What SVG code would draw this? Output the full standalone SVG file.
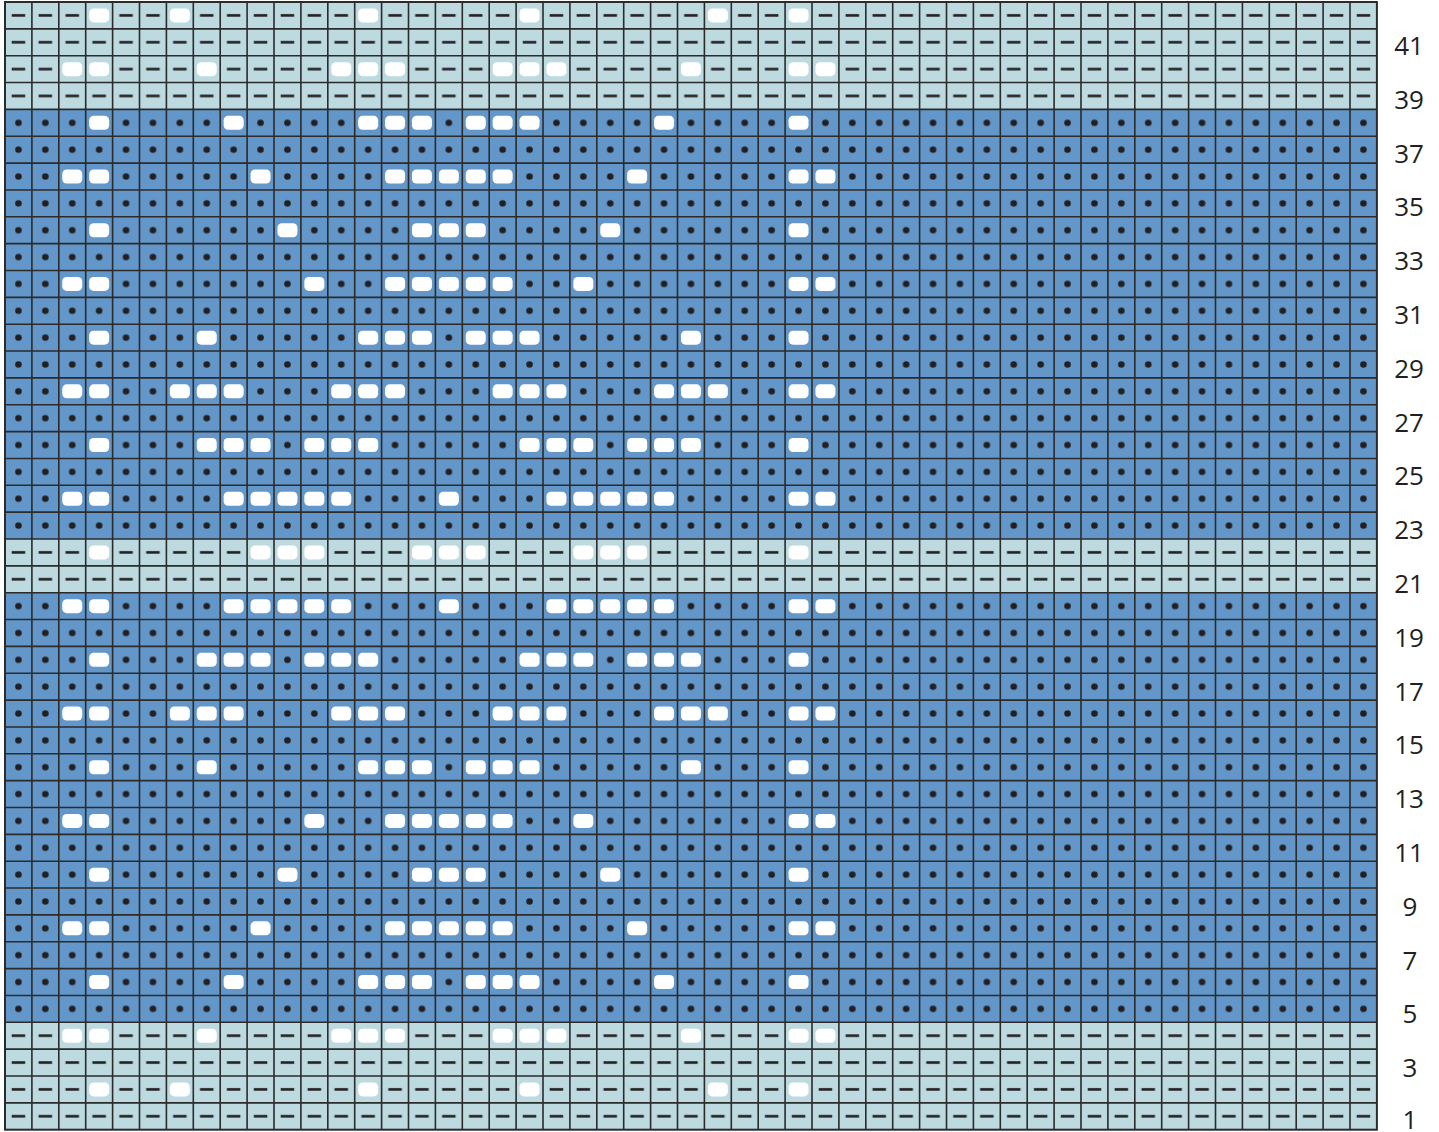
<svg xmlns="http://www.w3.org/2000/svg" xmlns:xlink="http://www.w3.org/1999/xlink" width="1439" height="1132" viewBox="0 0 1439 1132">
<style>
.light{fill:#bcdae0}
.blue{fill:#6497c9}
.grid{fill:none;stroke:#2b2b2b;stroke-width:1.6}
.border{fill:none;stroke:#2b2b2b;stroke-width:2}
.num{font-family:"Open Sans","Liberation Sans",sans-serif;font-size:26px;fill:#231f20;text-anchor:middle}
</style>
<defs>
<pattern id="dot" patternUnits="userSpaceOnUse" x="5" y="2" width="26.9" height="26.85"><circle cx="13.45" cy="13.425" r="3.3" fill="#231f20"/></pattern>
<pattern id="dash" patternUnits="userSpaceOnUse" x="5" y="2" width="26.9" height="26.85"><rect x="6.7" y="12.1" width="13.5" height="2.6" fill="#231f20"/></pattern>
<rect id="b" x="-10" y="-7" width="20" height="14" rx="4.5" fill="#ffffff"/>
</defs>
<rect width="1439" height="1132" fill="#ffffff"/>
<g id="bands">
<rect class="light" x="5" y="2" width="1371.9" height="107.4"/>
<rect class="blue" x="5" y="109.4" width="1371.9" height="429.6"/>
<rect class="light" x="5" y="539" width="1371.9" height="53.7"/>
<rect class="blue" x="5" y="592.7" width="1371.9" height="429.6"/>
<rect class="light" x="5" y="1022.3" width="1371.9" height="107.4"/>
</g>
<g id="symbols">
<rect x="5" y="2" width="1371.9" height="107.4" fill="url(#dash)"/>
<rect x="5" y="109.4" width="1371.9" height="429.6" fill="url(#dot)"/>
<rect x="5" y="539" width="1371.9" height="53.7" fill="url(#dash)"/>
<rect x="5" y="592.7" width="1371.9" height="429.6" fill="url(#dot)"/>
<rect x="5" y="1022.3" width="1371.9" height="107.4" fill="url(#dash)"/>
</g>
<g id="bobbles">
<g transform="translate(0,15.425)"><use href="#b" x="99.15"/><use href="#b" x="179.85"/><use href="#b" x="368.15"/><use href="#b" x="529.55"/><use href="#b" x="717.85"/><use href="#b" x="798.55"/></g>
<g transform="translate(0,69.125)"><use href="#b" x="72.25"/><use href="#b" x="99.15"/><use href="#b" x="206.75"/><use href="#b" x="341.25"/><use href="#b" x="368.15"/><use href="#b" x="395.05"/><use href="#b" x="502.65"/><use href="#b" x="529.55"/><use href="#b" x="556.45"/><use href="#b" x="690.95"/><use href="#b" x="798.55"/><use href="#b" x="825.45"/></g>
<g transform="translate(0,122.825)"><use href="#b" x="99.15"/><use href="#b" x="233.65"/><use href="#b" x="368.15"/><use href="#b" x="395.05"/><use href="#b" x="421.95"/><use href="#b" x="475.75"/><use href="#b" x="502.65"/><use href="#b" x="529.55"/><use href="#b" x="664.05"/><use href="#b" x="798.55"/></g>
<g transform="translate(0,176.525)"><use href="#b" x="72.25"/><use href="#b" x="99.15"/><use href="#b" x="260.55"/><use href="#b" x="395.05"/><use href="#b" x="421.95"/><use href="#b" x="448.85"/><use href="#b" x="475.75"/><use href="#b" x="502.65"/><use href="#b" x="637.15"/><use href="#b" x="798.55"/><use href="#b" x="825.45"/></g>
<g transform="translate(0,230.225)"><use href="#b" x="99.15"/><use href="#b" x="287.45"/><use href="#b" x="421.95"/><use href="#b" x="448.85"/><use href="#b" x="475.75"/><use href="#b" x="610.25"/><use href="#b" x="798.55"/></g>
<g transform="translate(0,283.925)"><use href="#b" x="72.25"/><use href="#b" x="99.15"/><use href="#b" x="314.35"/><use href="#b" x="395.05"/><use href="#b" x="421.95"/><use href="#b" x="448.85"/><use href="#b" x="475.75"/><use href="#b" x="502.65"/><use href="#b" x="583.35"/><use href="#b" x="798.55"/><use href="#b" x="825.45"/></g>
<g transform="translate(0,337.625)"><use href="#b" x="99.15"/><use href="#b" x="206.75"/><use href="#b" x="368.15"/><use href="#b" x="395.05"/><use href="#b" x="421.95"/><use href="#b" x="475.75"/><use href="#b" x="502.65"/><use href="#b" x="529.55"/><use href="#b" x="690.95"/><use href="#b" x="798.55"/></g>
<g transform="translate(0,391.325)"><use href="#b" x="72.25"/><use href="#b" x="99.15"/><use href="#b" x="179.85"/><use href="#b" x="206.75"/><use href="#b" x="233.65"/><use href="#b" x="341.25"/><use href="#b" x="368.15"/><use href="#b" x="395.05"/><use href="#b" x="502.65"/><use href="#b" x="529.55"/><use href="#b" x="556.45"/><use href="#b" x="664.05"/><use href="#b" x="690.95"/><use href="#b" x="717.85"/><use href="#b" x="798.55"/><use href="#b" x="825.45"/></g>
<g transform="translate(0,445.025)"><use href="#b" x="99.15"/><use href="#b" x="206.75"/><use href="#b" x="233.65"/><use href="#b" x="260.55"/><use href="#b" x="314.35"/><use href="#b" x="341.25"/><use href="#b" x="368.15"/><use href="#b" x="529.55"/><use href="#b" x="556.45"/><use href="#b" x="583.35"/><use href="#b" x="637.15"/><use href="#b" x="664.05"/><use href="#b" x="690.95"/><use href="#b" x="798.55"/></g>
<g transform="translate(0,498.725)"><use href="#b" x="72.25"/><use href="#b" x="99.15"/><use href="#b" x="233.65"/><use href="#b" x="260.55"/><use href="#b" x="287.45"/><use href="#b" x="314.35"/><use href="#b" x="341.25"/><use href="#b" x="448.85"/><use href="#b" x="556.45"/><use href="#b" x="583.35"/><use href="#b" x="610.25"/><use href="#b" x="637.15"/><use href="#b" x="664.05"/><use href="#b" x="798.55"/><use href="#b" x="825.45"/></g>
<g transform="translate(0,552.425)"><use href="#b" x="99.15"/><use href="#b" x="260.55"/><use href="#b" x="287.45"/><use href="#b" x="314.35"/><use href="#b" x="421.95"/><use href="#b" x="448.85"/><use href="#b" x="475.75"/><use href="#b" x="583.35"/><use href="#b" x="610.25"/><use href="#b" x="637.15"/><use href="#b" x="798.55"/></g>
<g transform="translate(0,606.125)"><use href="#b" x="72.25"/><use href="#b" x="99.15"/><use href="#b" x="233.65"/><use href="#b" x="260.55"/><use href="#b" x="287.45"/><use href="#b" x="314.35"/><use href="#b" x="341.25"/><use href="#b" x="448.85"/><use href="#b" x="556.45"/><use href="#b" x="583.35"/><use href="#b" x="610.25"/><use href="#b" x="637.15"/><use href="#b" x="664.05"/><use href="#b" x="798.55"/><use href="#b" x="825.45"/></g>
<g transform="translate(0,659.825)"><use href="#b" x="99.15"/><use href="#b" x="206.75"/><use href="#b" x="233.65"/><use href="#b" x="260.55"/><use href="#b" x="314.35"/><use href="#b" x="341.25"/><use href="#b" x="368.15"/><use href="#b" x="529.55"/><use href="#b" x="556.45"/><use href="#b" x="583.35"/><use href="#b" x="637.15"/><use href="#b" x="664.05"/><use href="#b" x="690.95"/><use href="#b" x="798.55"/></g>
<g transform="translate(0,713.525)"><use href="#b" x="72.25"/><use href="#b" x="99.15"/><use href="#b" x="179.85"/><use href="#b" x="206.75"/><use href="#b" x="233.65"/><use href="#b" x="341.25"/><use href="#b" x="368.15"/><use href="#b" x="395.05"/><use href="#b" x="502.65"/><use href="#b" x="529.55"/><use href="#b" x="556.45"/><use href="#b" x="664.05"/><use href="#b" x="690.95"/><use href="#b" x="717.85"/><use href="#b" x="798.55"/><use href="#b" x="825.45"/></g>
<g transform="translate(0,767.225)"><use href="#b" x="99.15"/><use href="#b" x="206.75"/><use href="#b" x="368.15"/><use href="#b" x="395.05"/><use href="#b" x="421.95"/><use href="#b" x="475.75"/><use href="#b" x="502.65"/><use href="#b" x="529.55"/><use href="#b" x="690.95"/><use href="#b" x="798.55"/></g>
<g transform="translate(0,820.925)"><use href="#b" x="72.25"/><use href="#b" x="99.15"/><use href="#b" x="314.35"/><use href="#b" x="395.05"/><use href="#b" x="421.95"/><use href="#b" x="448.85"/><use href="#b" x="475.75"/><use href="#b" x="502.65"/><use href="#b" x="583.35"/><use href="#b" x="798.55"/><use href="#b" x="825.45"/></g>
<g transform="translate(0,874.625)"><use href="#b" x="99.15"/><use href="#b" x="287.45"/><use href="#b" x="421.95"/><use href="#b" x="448.85"/><use href="#b" x="475.75"/><use href="#b" x="610.25"/><use href="#b" x="798.55"/></g>
<g transform="translate(0,928.325)"><use href="#b" x="72.25"/><use href="#b" x="99.15"/><use href="#b" x="260.55"/><use href="#b" x="395.05"/><use href="#b" x="421.95"/><use href="#b" x="448.85"/><use href="#b" x="475.75"/><use href="#b" x="502.65"/><use href="#b" x="637.15"/><use href="#b" x="798.55"/><use href="#b" x="825.45"/></g>
<g transform="translate(0,982.025)"><use href="#b" x="99.15"/><use href="#b" x="233.65"/><use href="#b" x="368.15"/><use href="#b" x="395.05"/><use href="#b" x="421.95"/><use href="#b" x="475.75"/><use href="#b" x="502.65"/><use href="#b" x="529.55"/><use href="#b" x="664.05"/><use href="#b" x="798.55"/></g>
<g transform="translate(0,1035.725)"><use href="#b" x="72.25"/><use href="#b" x="99.15"/><use href="#b" x="206.75"/><use href="#b" x="341.25"/><use href="#b" x="368.15"/><use href="#b" x="395.05"/><use href="#b" x="502.65"/><use href="#b" x="529.55"/><use href="#b" x="556.45"/><use href="#b" x="690.95"/><use href="#b" x="798.55"/><use href="#b" x="825.45"/></g>
<g transform="translate(0,1089.425)"><use href="#b" x="99.15"/><use href="#b" x="179.85"/><use href="#b" x="368.15"/><use href="#b" x="529.55"/><use href="#b" x="717.85"/><use href="#b" x="798.55"/></g>
</g>
<g id="gridlines">
<path class="grid" d="M31.9 2V1129.7M58.8 2V1129.7M85.7 2V1129.7M112.6 2V1129.7M139.5 2V1129.7M166.4 2V1129.7M193.3 2V1129.7M220.2 2V1129.7M247.1 2V1129.7M274 2V1129.7M300.9 2V1129.7M327.8 2V1129.7M354.7 2V1129.7M381.6 2V1129.7M408.5 2V1129.7M435.4 2V1129.7M462.3 2V1129.7M489.2 2V1129.7M516.1 2V1129.7M543 2V1129.7M569.9 2V1129.7M596.8 2V1129.7M623.7 2V1129.7M650.6 2V1129.7M677.5 2V1129.7M704.4 2V1129.7M731.3 2V1129.7M758.2 2V1129.7M785.1 2V1129.7M812 2V1129.7M838.9 2V1129.7M865.8 2V1129.7M892.7 2V1129.7M919.6 2V1129.7M946.5 2V1129.7M973.4 2V1129.7M1000.3 2V1129.7M1027.2 2V1129.7M1054.1 2V1129.7M1081 2V1129.7M1107.9 2V1129.7M1134.8 2V1129.7M1161.7 2V1129.7M1188.6 2V1129.7M1215.5 2V1129.7M1242.4 2V1129.7M1269.3 2V1129.7M1296.2 2V1129.7M1323.1 2V1129.7M1350 2V1129.7"/>
<path class="grid" d="M5 28.85H1376.9M5 55.7H1376.9M5 82.55H1376.9M5 109.4H1376.9M5 136.25H1376.9M5 163.1H1376.9M5 189.95H1376.9M5 216.8H1376.9M5 243.65H1376.9M5 270.5H1376.9M5 297.35H1376.9M5 324.2H1376.9M5 351.05H1376.9M5 377.9H1376.9M5 404.75H1376.9M5 431.6H1376.9M5 458.45H1376.9M5 485.3H1376.9M5 512.15H1376.9M5 539H1376.9M5 565.85H1376.9M5 592.7H1376.9M5 619.55H1376.9M5 646.4H1376.9M5 673.25H1376.9M5 700.1H1376.9M5 726.95H1376.9M5 753.8H1376.9M5 780.65H1376.9M5 807.5H1376.9M5 834.35H1376.9M5 861.2H1376.9M5 888.05H1376.9M5 914.9H1376.9M5 941.75H1376.9M5 968.6H1376.9M5 995.45H1376.9M5 1022.3H1376.9M5 1049.15H1376.9M5 1076H1376.9M5 1102.85H1376.9"/>
<rect class="border" x="5" y="2" width="1371.9" height="1127.7"/>
</g>
<g id="rownumbers">
<text class="num" x="1409" y="55">41</text>
<text class="num" x="1409" y="108.8">39</text>
<text class="num" x="1409" y="162.6">37</text>
<text class="num" x="1409" y="216.4">35</text>
<text class="num" x="1409" y="270.2">33</text>
<text class="num" x="1409" y="324">31</text>
<text class="num" x="1409" y="377.8">29</text>
<text class="num" x="1409" y="431.6">27</text>
<text class="num" x="1409" y="485.4">25</text>
<text class="num" x="1409" y="539.2">23</text>
<text class="num" x="1409" y="593">21</text>
<text class="num" x="1409" y="646.8">19</text>
<text class="num" x="1409" y="700.6">17</text>
<text class="num" x="1409" y="754.4">15</text>
<text class="num" x="1409" y="808.2">13</text>
<text class="num" x="1409" y="862">11</text>
<text class="num" x="1410" y="915.8">9</text>
<text class="num" x="1410" y="969.6">7</text>
<text class="num" x="1410" y="1023.4">5</text>
<text class="num" x="1410" y="1077.2">3</text>
<text class="num" x="1410" y="1129">1</text>
</g>
</svg>
